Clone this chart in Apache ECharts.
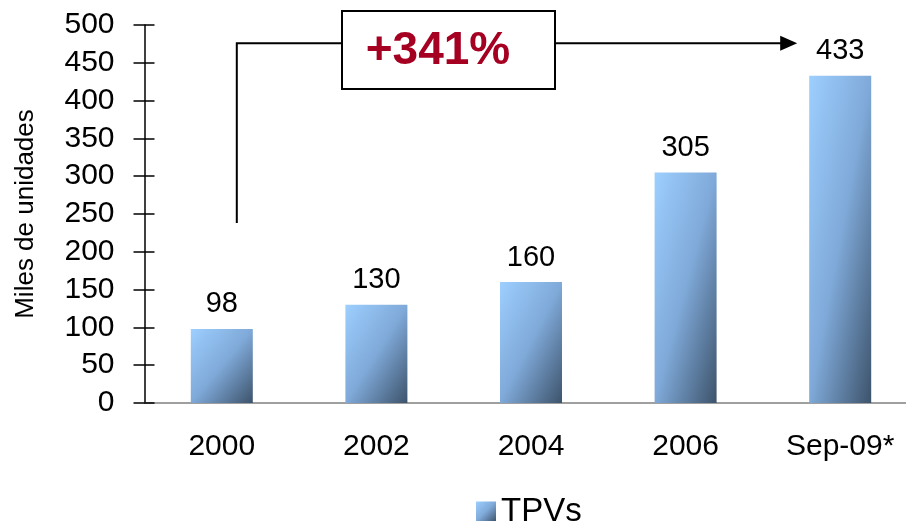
<!DOCTYPE html>
<html>
<head>
  <meta charset="utf-8">
  <title>TPVs</title>
  <script src="https://cdn.jsdelivr.net/npm/echarts@6/dist/echarts.min.js"></script>
  <style>
    body { margin: 0; padding: 0; background: #fff; }
    #main { width: 906px; height: 521px; }
  </style>
</head>
<body>
  <div id="main"></div>
  <script type="text/javascript">
    // data
    const categories = ['2000', '2002', '2004', '2006', 'Sep-09*']
    const tpvs = [98, 130, 160, 305, 433]
    const seriesName = 'TPVs'
    const axisName = 'Miles de unidades'
    const growthText = '+341%'

    const font = 'Liberation Sans, Arial, sans-serif'
    const barWidth = 62
    const light = '#9dcfff', mid = '#7fa9d8', dark = '#3d536b'

    // PowerPoint-like "scaled" diagonal gradient: isolines run corner to corner
    function barGradient (w, h) {
      const s = w * w + h * h
      return new echarts.graphic.LinearGradient(0, 0, 2 * h * h / s, 2 * w * w / s, [
        { offset: 0, color: light },
        { offset: 0.5, color: mid },
        { offset: 1, color: dark }
      ])
    }

    const tick = { color: '#000', width: 1.5 }
    const xTick = { color: '#404040', width: 1.5 }

    const main = document.getElementById('main')
    const chart = echarts.init(main)

    const option = {
      animation: false,
      textStyle: { fontFamily: font },
      grid: {
        left: 144.5, top: 25, width: 773, bottom: 118,
        containLabel: false, outerBoundsMode: 'none'
      },
      legend: {
        data: [{ name: seriesName, icon: 'rect', itemStyle: { color: barGradient(20, 20) } }],
        left: 476,
        top: 495,
        padding: 0,
        itemWidth: 20,
        itemHeight: 20,
        textStyle: { fontSize: 33, color: '#000', fontFamily: font }
      },
      xAxis: [
        {
          type: 'category',
          data: categories,
          position: 'bottom',
          axisLine: { lineStyle: { color: '#808080', width: 1.5 } },
          axisTick: { length: 10, lineStyle: xTick },
          axisLabel: { fontSize: 30, color: '#000', margin: 29, fontFamily: font }
        },
        {
          type: 'category',
          data: categories,
          position: 'bottom',
          axisLine: { show: false },
          axisTick: { inside: true, length: 10, lineStyle: xTick },
          axisLabel: { show: false }
        }
      ],
      yAxis: [
        {
          type: 'value',
          position: 'left',
          min: 0,
          max: 500,
          interval: 50,
          name: axisName,
          nameLocation: 'middle',
          nameGap: 106,
          nameTextStyle: { fontSize: 26, color: '#000', fontFamily: font },
          axisLine: { show: true, lineStyle: tick },
          axisTick: { show: true, length: 11, lineStyle: tick },
          axisLabel: { fontSize: 30, color: '#000', margin: 30, fontFamily: font },
          splitLine: { show: false }
        },
        {
          type: 'value',
          position: 'left',
          min: 0,
          max: 500,
          interval: 50,
          axisLine: { show: false },
          axisTick: { show: true, inside: true, length: 10, lineStyle: tick },
          axisLabel: { show: false },
          splitLine: { show: false }
        }
      ],
      series: [{
        name: seriesName,
        type: 'bar',
        barWidth: barWidth,
        data: tpvs,
        itemStyle: { color: mid },
        label: {
          show: true,
          position: 'top',
          distance: 10,
          fontSize: 29,
          color: '#000',
          fontFamily: font
        }
      }]
    }
    chart.setOption(option)

    // per-bar gradient from real bar heights
    const y0 = chart.convertToPixel({ yAxisIndex: 0 }, 0)
    const styled = tpvs.map(v => ({
      value: v,
      itemStyle: { color: barGradient(barWidth, y0 - chart.convertToPixel({ yAxisIndex: 0 }, v)) }
    }))

    // growth arrow, anchored to the axes
    const xStart = chart.convertToPixel({ xAxisIndex: 0 }, categories[0]) + 15
    const xEnd = chart.convertToPixel({ xAxisIndex: 0 }, categories[categories.length - 1]) - 43
    const yStart = chart.convertToPixel({ yAxisIndex: 0 }, 238)
    const yTop = chart.convertToPixel({ yAxisIndex: 0 }, 476)

    chart.setOption({
      series: [{ data: styled }],
      graphic: [
        {
          type: 'polyline',
          z: 10,
          shape: { points: [[xStart, yStart], [xStart, yTop], [xEnd - 15, yTop]] },
          style: { stroke: '#000', lineWidth: 2, fill: null }
        },
        {
          type: 'polygon',
          z: 10,
          shape: { points: [[xEnd - 17, yTop - 7.5], [xEnd, yTop], [xEnd - 17, yTop + 7.5]] },
          style: { fill: '#000' }
        },
        {
          type: 'rect',
          z: 11,
          shape: { x: 342, y: 11, width: 213, height: 78 },
          style: { fill: '#fff', stroke: '#000', lineWidth: 2 }
        },
        {
          type: 'text',
          z: 12,
          x: 438,
          y: 51,
          style: {
            text: growthText,
            align: 'center',
            verticalAlign: 'middle',
            font: 'bold 46px ' + font,
            fill: '#a50021'
          }
        }
      ]
    })
  </script>
</body>
</html>
